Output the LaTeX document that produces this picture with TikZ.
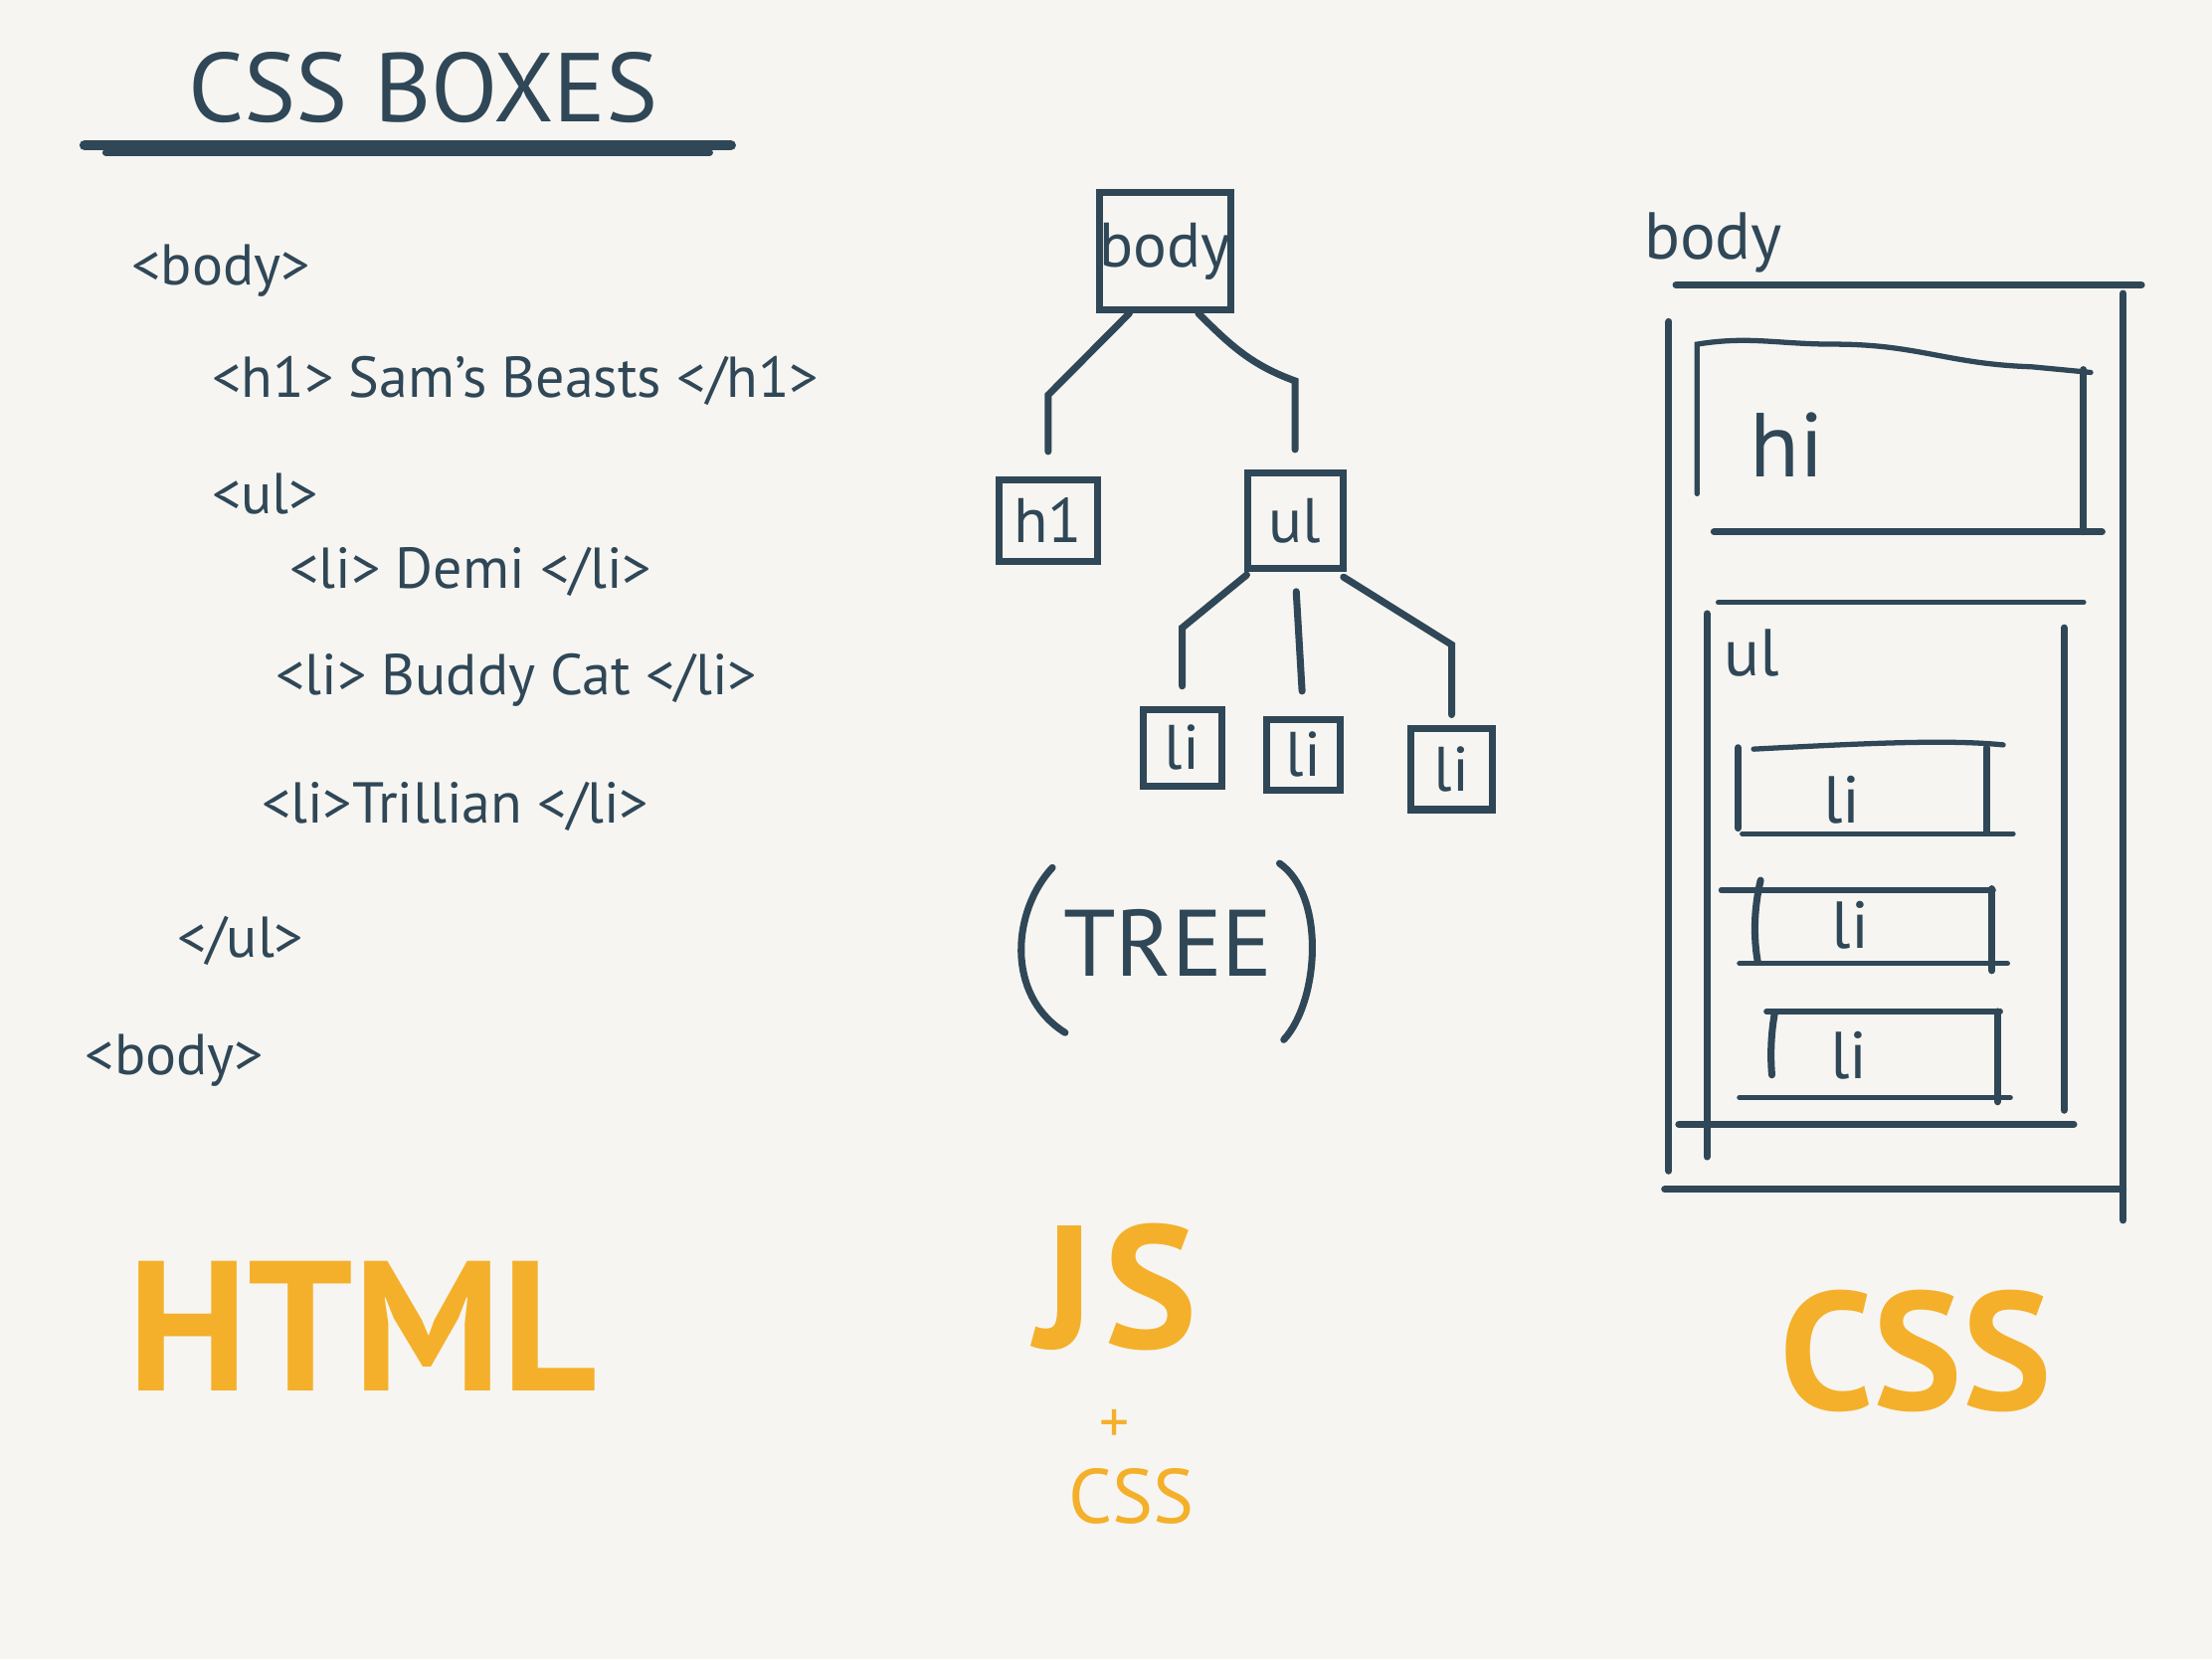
\documentclass[tikz,border=0pt]{standalone}
\usepackage{fontspec}
\setmainfont{PT Sans}
\usetikzlibrary{positioning}
\definecolor{ink}{HTML}{2F4757}
\definecolor{marker}{HTML}{F4B02A}
\definecolor{paper}{HTML}{F6F5F1}
\tikzset{
  pen/.style={draw=ink, line width=2pt, line cap=round},
  thinpen/.style={draw=ink, line width=1.5pt, line cap=round},
  code/.style={anchor=west, text=ink, inner sep=0pt, font=\fontsize{16.5}{18}\selectfont},
  treebox/.style={draw=ink, line width=2pt, inner sep=0pt, text=ink, font=\fontsize{18}{22}\selectfont},
  boxlabel/.style={anchor=west, text=ink, inner sep=0pt, font=\fontsize{19}{22}\selectfont},
  bigword/.style={text=marker, inner sep=0pt, font=\bfseries\fontsize{48}{50}\selectfont},
}
\begin{document}
\begin{tikzpicture}[x=0.014184cm, y=-0.014184cm]
\fill[paper] (0,0) rectangle (1568,1176);
\useasboundingbox (0,0) rectangle (1568,1176);

% title
\node[text=ink, inner sep=0pt, font=\fontsize{28}{30}\selectfont] (title) at (300,62) {CSS BOXES};
\draw[pen, line width=3pt] (60,103) -- (518,103);
\draw[pen] (75,108) -- (503,108);

% html source
\node[code] (c1) at (93,192) {<body>};
\node[code] (c2) at (150,270) {<h1> Sam's Beasts </h1>};
\node[code] (c3) at (150,350) {<ul>};
\node[code] (c4) at (205,405) {<li> Demi </li>};
\node[code] (c5) at (195,482) {<li> Buddy Cat </li>};
\node[code] (c6) at (185,572) {<li>Trillian </li>};
\node[code] (c7) at (125,667) {</ul>};
\node[code] (c8) at (60,752) {<body>};

% tree
\node[treebox, minimum width=1.30cm, minimum height=1.18cm] (tbody) at (826,178) {body};
\node[treebox, minimum width=0.99cm, minimum height=0.82cm] (th1) at (743,369) {h1};
\node[treebox, minimum width=0.96cm, minimum height=0.96cm] (tul) at (918,369) {ul};
\node[treebox, minimum width=0.79cm, minimum height=0.77cm] (tli1) at (838,530) {li};
\node[treebox, minimum width=0.74cm, minimum height=0.71cm] (tli2) at (924,535) {li};
\node[treebox, minimum width=0.82cm, minimum height=0.82cm] (tli3) at (1029,545) {li};
\draw[pen, shorten >=0.25cm] (tbody.240) -- (th1.north |- 0,280) -- (th1.north);
\draw[pen, shorten >=0.2cm] (tbody.298) to[out=-45,in=160] (tul.north |- 0,270) -- (tul.north);
\draw[pen, shorten >=0.2cm, shorten <=0.05cm] (tul.229) -- (tli1.north |- 0,445) -- (tli1.north);
\draw[pen, shorten >=0.25cm, shorten <=0.2cm] (tul.south) -- (tli2.north);
\draw[pen, shorten >=0.1cm, shorten <=0.1cm] (tul.308) -- (tli3.north |- 0,457) -- (tli3.north);
\node[text=ink, inner sep=0pt, font=\fontsize{27}{30}\selectfont] (tree) at (828,668) {TREE};
\draw[pen] (746,615) .. controls (718,645) and (712,705) .. (755,732);
\draw[pen] (907,612) .. controls (940,635) and (935,710) .. (910,737);

% css boxes
\node[boxlabel] (bbody) at (1165,172) {body};
\draw[pen] (1188,202) -- (1518,202);
\draw[pen] (1183,228) -- (1183,830);
\draw[pen] (1505,208) -- (1505,865);
\draw[pen] (1180,843) -- (1505,843);
% h1 box
\node[boxlabel, font=\fontsize{26}{28}\selectfont] (bh1) at (1240,315) {hi};
\draw[thinpen] (1203,350) -- (1203,244) .. controls (1240,238) and (1260,244) .. (1300,244)
  .. controls (1360,244) and (1380,258) .. (1440,260) -- (1482,264);
\draw[pen] (1477,262) -- (1477,377);
\draw[pen] (1215,377) -- (1490,377);
% ul box
\node[boxlabel] (bul) at (1222,463) {ul};
\draw[thinpen] (1218,427) -- (1477,427);
\draw[pen] (1210,435) -- (1210,820);
\draw[pen] (1463,445) -- (1463,787);
\draw[pen] (1190,797) -- (1470,797);
% li boxes
\node[boxlabel] (bli1) at (1292,567) {li};
\draw[pen] (1232,530) -- (1232,587);
\draw[thinpen] (1243,531) .. controls (1320,527) and (1380,524) .. (1420,528);
\draw[pen] (1408,530) -- (1408,590);
\draw[thinpen] (1235,591) -- (1427,591);
\node[boxlabel] (bli2) at (1298,656) {li};
\draw[thinpen] (1220,631) -- (1413,631);
\draw[pen] (1248,624) .. controls (1243,645) and (1243,665) .. (1246,682);
\draw[pen] (1412,630) -- (1412,688);
\draw[thinpen] (1233,683) -- (1423,683);
\node[boxlabel] (bli3) at (1297,748) {li};
\draw[thinpen] (1252,717) -- (1418,717);
\draw[pen] (1258,718) .. controls (1255,735) and (1255,750) .. (1256,762);
\draw[pen] (1416,717) -- (1416,781);
\draw[thinpen] (1233,778) -- (1425,778);

% marker words
\node[bigword, font=\bfseries\fontsize{53}{55}\selectfont] (html) at (257,940) {HTML};
\node[bigword, font=\bfseries\fontsize{50}{52}\selectfont] (js) at (791,912) {J\kern3pt S};
\node[text=marker, inner sep=0pt, font=\fontsize{17}{19}\selectfont] (plus) at (790,1011) {+};
\node[text=marker, inner sep=0pt, font=\fontsize{22}{24}\selectfont] (jscss) at (802,1061) {CSS};
\node[bigword] (css) at (1358,958) {CSS};
\end{tikzpicture}
\end{document}
